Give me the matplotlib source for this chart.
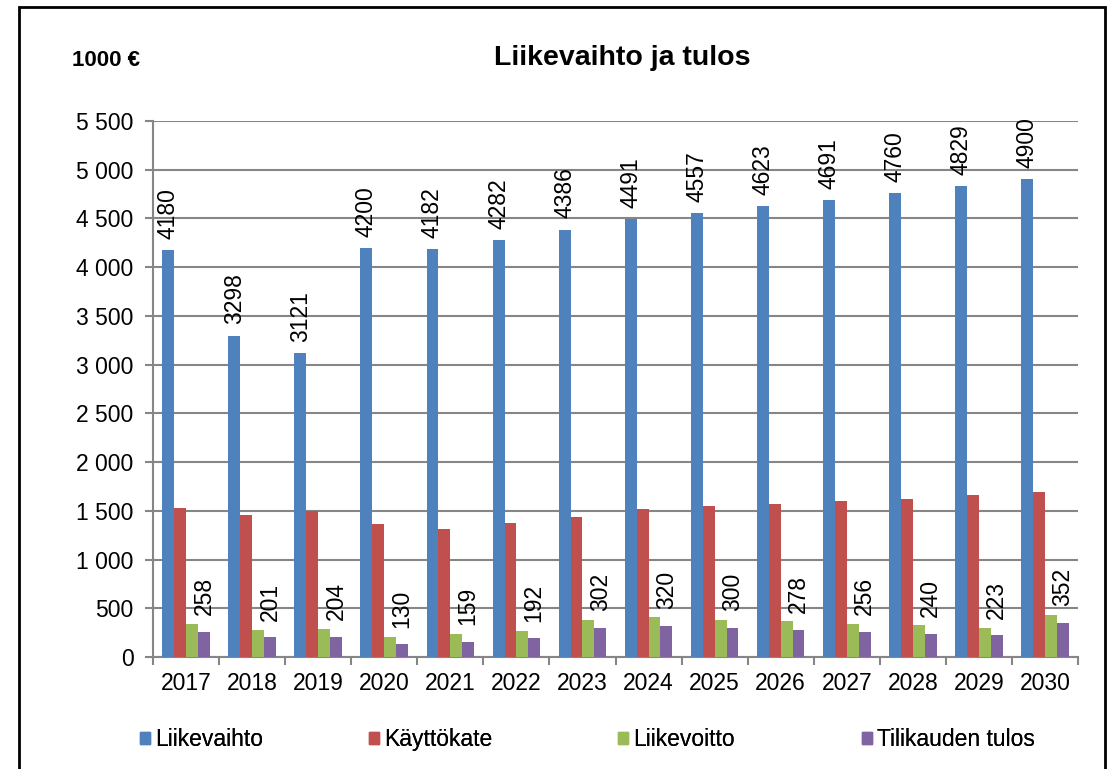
import matplotlib.pyplot as plt
import numpy as np
from matplotlib.ticker import FuncFormatter, FixedLocator
from matplotlib.patches import Rectangle, Patch

plt.rcParams['font.family'] = ['Liberation Sans', 'DejaVu Sans']

years = ['2017', '2018', '2019', '2020', '2021', '2022', '2023',
         '2024', '2025', '2026', '2027', '2028', '2029', '2030']
liikevaihto = [4180, 3298, 3121, 4200, 4182, 4282, 4386, 4491, 4557, 4623, 4691, 4760, 4829, 4900]
kayttokate = [1528, 1455, 1503, 1361, 1309, 1375, 1437, 1517, 1545, 1569, 1597, 1622, 1663, 1688]
liikevoitto = [337, 274, 288, 208, 233, 271, 378, 406, 378, 365, 337, 326, 299, 431]
tulos = [258, 201, 204, 130, 159, 192, 302, 320, 300, 278, 256, 240, 223, 352]

names = ['Liikevaihto', 'Käyttökate', 'Liikevoitto', 'Tilikauden tulos']
colors = ['#4F81BD', '#C0504D', '#9BBB59', '#8064A2']
series = [liikevaihto, kayttokate, liikevoitto, tulos]

fig = plt.figure(figsize=(11.09, 7.69), dpi=100)
ax = fig.add_axes([153 / 1109, 1 - 657 / 769, (1078 - 153) / 1109, (657 - 121) / 769])

x = np.arange(len(years))
w = 0.18
bars = []
for i, (vals, c) in enumerate(zip(series, colors)):
    b = ax.bar(x + (i - 1.5) * w, vals, w, color=c, zorder=3)
    bars.append(b)

ax.bar_label(bars[0], labels=[str(v) for v in liikevaihto], rotation=90,
             padding=8, fontsize=16.5)
ax.bar_label(bars[3], labels=[str(v) for v in tulos], rotation=90,
             padding=12, fontsize=16.5)

ax.set_xlim(-0.5, len(years) - 0.5)
ax.set_ylim(0, 5500)
ax.set_yticks(np.arange(0, 5501, 500))
ax.yaxis.set_major_formatter(FuncFormatter(lambda v, p: f'{int(v):,}'.replace(',', ' ')))
ax.set_xticks(x)
ax.set_xticklabels(years)
ax.xaxis.set_minor_locator(FixedLocator(np.arange(-0.5, len(years), 1)))
ax.tick_params(axis='x', which='major', length=0, labelsize=16.5, pad=11)
ax.tick_params(axis='x', which='minor', length=6, width=1.5, color='#868686')
ax.tick_params(axis='y', length=6, width=1.5, color='#868686', labelsize=16.5, pad=8)

ax.grid(axis='y', color='#868686', linewidth=1.5, zorder=0)
for s in ['top', 'right']:
    ax.spines[s].set_visible(False)
for s in ['left', 'bottom']:
    ax.spines[s].set_color('#868686')
    ax.spines[s].set_linewidth(1.5)

fig.text(622 / 1109, 1 - 58 / 769, 'Liikevaihto ja tulos', ha='center', va='center',
         fontsize=20.5, fontweight='bold')
fig.text(72 / 1109, 1 - 61 / 769, '1000 €', ha='left', va='center',
         fontsize=16, fontweight='bold')

# one legend per entry so the columns sit where Excel put them
leg_x = [140, 369, 618, 862]
for lx, n, c in zip(leg_x, names, colors):
    lg = fig.legend(handles=[Patch(color=c)], labels=[n], loc='lower left',
                    bbox_to_anchor=(lx / 1109, 1 - 751 / 769), frameon=False,
                    fontsize=16.5, handlelength=0.42, handleheight=0.42,
                    handletextpad=0.25, borderpad=0, borderaxespad=0)
    fig.add_artist(lg)

fig.add_artist(Rectangle((19 / 1109, -0.05), (1105 - 19) / 1109, 1.05 - 7 / 769,
                         transform=fig.transFigure, fill=False, edgecolor='black',
                         linewidth=2))

fig.savefig('out.png', dpi=100)
